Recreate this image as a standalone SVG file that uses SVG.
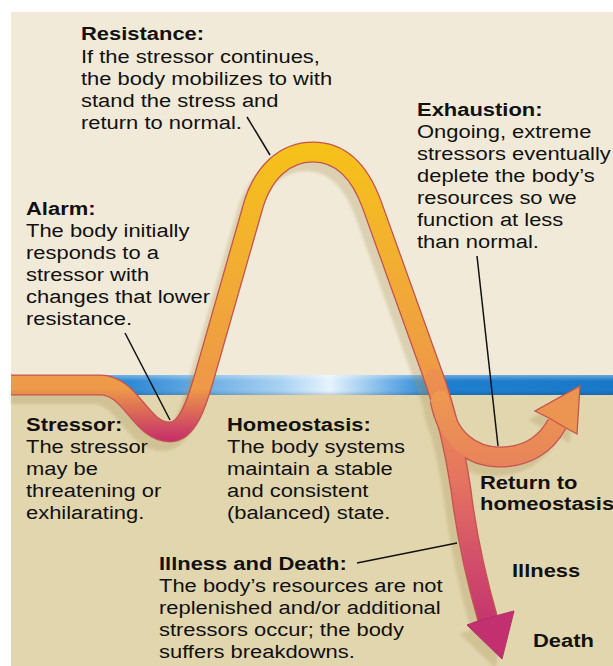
<svg xmlns="http://www.w3.org/2000/svg" width="613" height="666" viewBox="0 0 613 666">
<defs>
<style>
.t{font-family:"Liberation Sans",Arial,Helvetica,sans-serif;font-size:18.6px;fill:#111}
.b{font-weight:bold}
.lead{stroke:#111;stroke-width:1.5;fill:none}
.ol{fill:none;stroke:#c4544e;stroke-width:21}
.fl{fill:none;stroke-width:18.4}
.sh{fill:none;stroke:#aa965a;stroke-width:20}
</style>
<linearGradient id="band" x1="11" y1="0" x2="613" y2="0" gradientUnits="userSpaceOnUse">
<stop offset="0" stop-color="#1f7fcf"/>
<stop offset="0.2" stop-color="#2f8ad6"/>
<stop offset="0.45" stop-color="#a9d2f2"/>
<stop offset="0.53" stop-color="#e6f3fc"/>
<stop offset="0.63" stop-color="#6fb0e8"/>
<stop offset="0.71" stop-color="#1f7fcf"/>
<stop offset="1" stop-color="#1a78c8"/>
</linearGradient>
<linearGradient id="bandv" x1="0" y1="375" x2="0" y2="395" gradientUnits="userSpaceOnUse">
<stop offset="0" stop-color="#fff" stop-opacity="0.35"/>
<stop offset="0.3" stop-color="#fff" stop-opacity="0"/>
<stop offset="0.8" stop-color="#000" stop-opacity="0"/>
<stop offset="1" stop-color="#000" stop-opacity="0.15"/>
</linearGradient>
<linearGradient id="gA" x1="0" y1="388" x2="0" y2="442" gradientUnits="userSpaceOnUse">
<stop offset="0" stop-color="#ee9a48"/>
<stop offset="1" stop-color="#c42c6c"/>
</linearGradient>
<linearGradient id="gB" x1="0" y1="145" x2="0" y2="385" gradientUnits="userSpaceOnUse">
<stop offset="0" stop-color="#f6c218"/>
<stop offset="0.45" stop-color="#f2b030"/>
<stop offset="1" stop-color="#ee9848"/>
</linearGradient>
<linearGradient id="gC" x1="0" y1="378" x2="0" y2="655" gradientUnits="userSpaceOnUse">
<stop offset="0" stop-color="#ec9050"/>
<stop offset="0.37" stop-color="#e57460"/>
<stop offset="0.66" stop-color="#d24e6a"/>
<stop offset="1" stop-color="#bd2870"/>
</linearGradient>
<linearGradient id="gD" x1="0" y1="462" x2="0" y2="390" gradientUnits="userSpaceOnUse">
<stop offset="0" stop-color="#e8845a"/>
<stop offset="1" stop-color="#ee9a50"/>
</linearGradient>
<filter id="blur" x="-10%" y="-10%" width="120%" height="120%">
<feGaussianBlur stdDeviation="1.8"/>
</filter>
</defs>

<rect width="613" height="666" fill="#ffffff"/>
<rect x="11" y="12" width="602" height="364" fill="#f1ead8"/>
<rect x="11" y="394" width="602" height="272" fill="#e2d6af"/>
<rect x="11" y="375" width="602" height="20" fill="url(#band)"/>
<rect x="11" y="375" width="602" height="20" fill="url(#bandv)"/>

<g id="curve">
<g id="shadow" transform="translate(-7,9)" opacity="0.3" filter="url(#blur)">
<path class="sh" d="M 18,385 L 100,385 C 132,385 140,432 170,432 C 188,432 197,402 204,378 L 252,210 C 262,172 285,152 313,152 C 341,152 360,172 372,205 L 434,378 C 446,412 455,450 461,490 C 467,540 478,585 488,620"/>
<path class="sh" d="M 440,400 C 448,440 472,457 500,457 C 525,457 545,446 557,424"/>
<polygon fill="#aa965a" points="580,386 577,434 566,428 549,418 535,411"/>
<polygon fill="#aa965a" points="502,659 467,625 478,621 499,615 514,611"/>
</g>
<g id="outline">
<path class="ol" d="M 11,385 L 100,385 C 132,385 140,432 170,432 C 188,432 197,402 204,378 L 252,210 C 262,172 285,152 313,152 C 341,152 360,172 372,205 L 434,378 C 446,412 455,450 461,490 C 467,540 478,585 488,620"/>
<path class="ol" d="M 440,400 C 448,440 472,457 500,457 C 525,457 545,446 557,424"/>
</g>
<g id="fill">
<path class="fl" stroke="url(#gA)" d="M 11,385 L 100,385 C 132,385 140,432 170,432 C 188,432 197,402 204,378"/>
<path class="fl" stroke="url(#gB)" stroke-linecap="round" d="M 204,378 L 252,210 C 262,172 285,152 313,152 C 341,152 360,172 372,205 L 434,378"/>
<path class="fl" stroke="url(#gC)" stroke-linecap="round" d="M 434,378 C 446,412 455,450 461,490 C 467,540 478,585 488,620"/>
<path class="fl" stroke="url(#gD)" stroke-linecap="round" d="M 440,400 C 448,440 472,457 500,457 C 525,457 545,446 557,424"/>
</g>
<polygon fill="#ec9452" stroke="#c4544e" stroke-width="1.3" stroke-linejoin="miter" points="580,386 577,434 566,428 549,418 535,411"/>
<polygon fill="#c23070" stroke="#b0306a" stroke-width="1" points="502,659 467,625 478,621 499,615 514,611"/>
</g>

<g id="connectors">
<line class="lead" x1="247" y1="117" x2="270" y2="155"/>
<line class="lead" x1="125" y1="333" x2="170" y2="420"/>
<line class="lead" x1="477" y1="256" x2="498" y2="446"/>
<line class="lead" x1="357" y1="563" x2="457" y2="543"/>
</g>

<g id="resistance">
<text class="t" transform="translate(81,0) scale(1.18,1)">
<tspan class="b" x="0" y="40.5">Resistance:</tspan>
<tspan x="0" y="63">If the stressor continues,</tspan>
<tspan x="0" y="85">the body mobilizes to with</tspan>
<tspan x="0" y="107">stand the stress and</tspan>
<tspan x="0" y="129">return to normal.</tspan>
</text>
</g>

<g id="exhaustion">
<text class="t" transform="translate(417,0) scale(1.18,1)">
<tspan class="b" x="0" y="116.5">Exhaustion:</tspan>
<tspan x="0" y="138.5">Ongoing, extreme</tspan>
<tspan x="0" y="160.5">stressors eventually</tspan>
<tspan x="0" y="182.5">deplete the body’s</tspan>
<tspan x="0" y="204.5">resources so we</tspan>
<tspan x="0" y="226.5">function at less</tspan>
<tspan x="0" y="248.5">than normal.</tspan>
</text>
</g>

<g id="alarm">
<text class="t" transform="translate(26,0) scale(1.18,1)">
<tspan class="b" x="0" y="215">Alarm:</tspan>
<tspan x="0" y="237">The body initially</tspan>
<tspan x="0" y="259">responds to a</tspan>
<tspan x="0" y="281">stressor with</tspan>
<tspan x="0" y="303">changes that lower</tspan>
<tspan x="0" y="325">resistance.</tspan>
</text>
</g>

<g id="stressor">
<text class="t" transform="translate(26,0) scale(1.18,1)">
<tspan class="b" x="0" y="431.5">Stressor:</tspan>
<tspan x="0" y="453.5">The stressor</tspan>
<tspan x="0" y="475.5">may be</tspan>
<tspan x="0" y="497.5">threatening or</tspan>
<tspan x="0" y="519.5">exhilarating.</tspan>
</text>
</g>

<g id="homeostasis">
<text class="t" transform="translate(227,0) scale(1.18,1)">
<tspan class="b" x="0" y="431.5">Homeostasis:</tspan>
<tspan x="0" y="453.5">The body systems</tspan>
<tspan x="0" y="475.5">maintain a stable</tspan>
<tspan x="0" y="497.5">and consistent</tspan>
<tspan x="0" y="519.5">(balanced) state.</tspan>
</text>
</g>

<g id="illness-death">
<text class="t" transform="translate(159,0) scale(1.18,1)">
<tspan class="b" x="0" y="570">Illness and Death:</tspan>
<tspan x="0" y="592">The body’s resources are not</tspan>
<tspan x="0" y="614">replenished and/or additional</tspan>
<tspan x="0" y="636">stressors occur; the body</tspan>
<tspan x="0" y="658">suffers breakdowns.</tspan>
</text>
</g>

<g id="return">
<text class="t b" transform="translate(480,0) scale(1.18,1)">
<tspan x="0" y="489.5">Return to</tspan>
<tspan x="0" y="510.5">homeostasis</tspan>
</text>
</g>

<g id="illness">
<text class="t b" transform="translate(512,0) scale(1.18,1)"><tspan x="0" y="577.5">Illness</tspan></text>
</g>

<g id="death">
<text class="t b" transform="translate(533,0) scale(1.18,1)"><tspan x="0" y="647.5">Death</tspan></text>
</g>
</svg>
